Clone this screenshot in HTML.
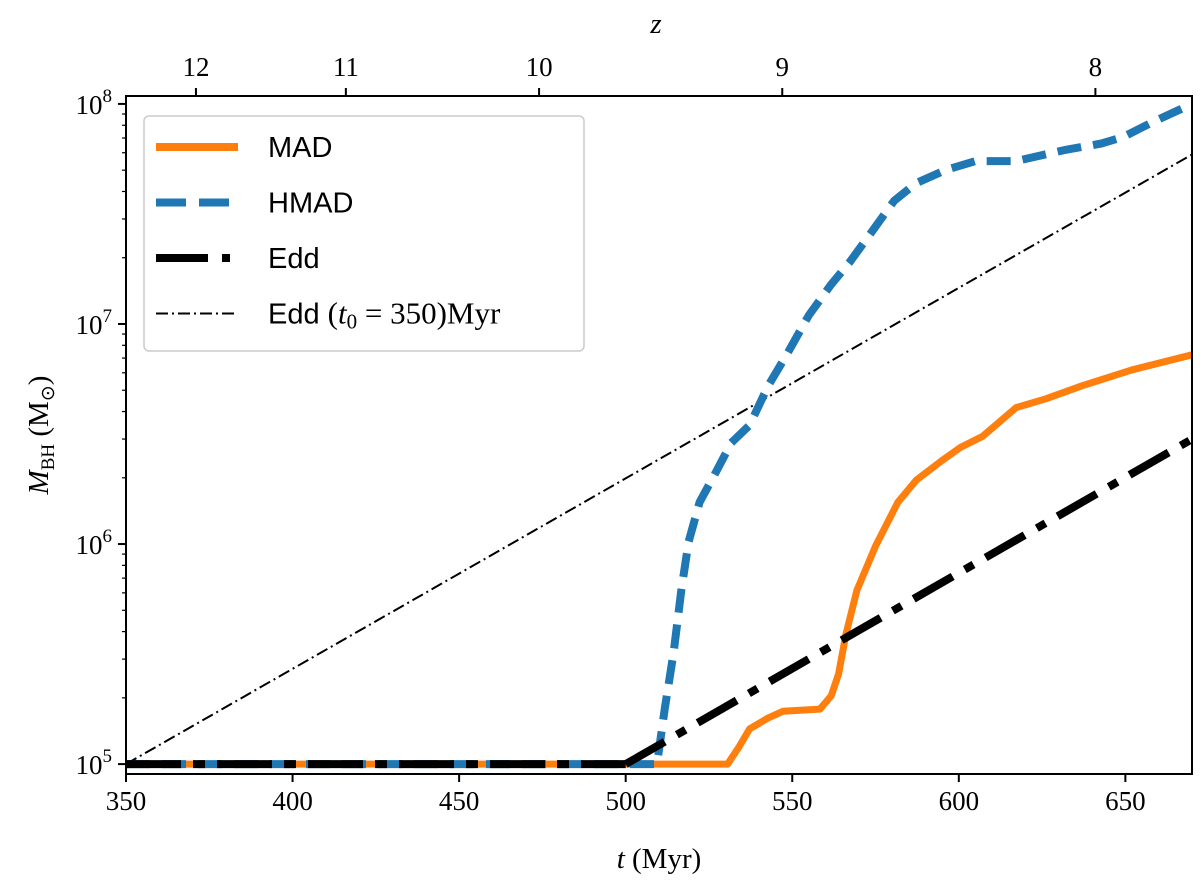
<!DOCTYPE html>
<html><head><meta charset="utf-8"><style>
body{margin:0;background:#fff}
svg{display:block}
text{font-family:"Liberation Serif",serif;fill:#000}
.lg{font-family:"Liberation Sans","DejaVu Sans",sans-serif;font-size:29px}
</style></head><body>
<svg id="c" width="1200" height="895"></svg>
<script>
const madT=[350,530.6,533.9,537.2,542.8,547.2,558.3,561.7,563.9,566.1,569.4,575,581.7,587.2,595,600.6,607.2,617.2,626.1,637.2,651.7,670];
const madLog=[5,5,5.075,5.16,5.21,5.24,5.25,5.31,5.41,5.59,5.79,5.99,6.19,6.29,6.38,6.44,6.49,6.62,6.66,6.72,6.79,6.86];
const hmadT=[350,505,509.4,511.7,514.4,516.7,518.9,522.2,527.2,531.7,537.2,542.8,548.3,555,561.7,567.2,573.9,580.6,587.2,596.1,605,617.2,631.7,642.8,649.4,657.2,670];
const hmadLog=[5,5,5.0,5.25,5.51,5.79,6.01,6.19,6.33,6.46,6.54,6.72,6.86,7.04,7.18,7.28,7.42,7.56,7.64,7.70,7.74,7.74,7.79,7.82,7.85,7.91,8.0];
const eddT=[500,670];
const eddLog=[5,6.477];
const edd0T=[350,670];
const edd0Log=[5,7.77];
const xTicks=[350,400,450,500,550,600,650];
const yTicks=[5,6,7,8];
const zLabels=["12","11","10","9","8"];
const zT=[371,416,474,547,641];

const L=126,R=1192,T=96,B=774,xmin=350,xmax=670,ymin=4.955,ymax=8.036;
const X=t=>L+(t-xmin)/(xmax-xmin)*(R-L);
const Y=l=>B-(l-ymin)/(ymax-ymin)*(B-T);
const svg=document.getElementById('c');
const NS='http://www.w3.org/2000/svg';
function mk(tag,at,parent){const e=document.createElementNS(NS,tag);for(const k in at)e.setAttribute(k,at[k]);(parent||svg).appendChild(e);return e;}
function path(ts,ls){return ts.map((t,i)=>(i?'L':'M')+X(t).toFixed(1)+','+Y(ls[i]).toFixed(1)).join('');}

let e;
e=mk('path',{d:path(edd0T,edd0Log),stroke:'#000','stroke-width':2,fill:'none','stroke-dasharray':'12 4 2 4'});


e=mk('path',{d:path(madT,madLog),stroke:'#ff7f0e','stroke-width':7,fill:'none','stroke-linejoin':'round'});


e=mk('path',{d:path(hmadT,hmadLog),stroke:'#1f77b4','stroke-width':8,fill:'none','stroke-dasharray':'24 12','stroke-linejoin':'round'});


e=mk('path',{d:'M'+X(350)+','+Y(5)+'H'+X(500),stroke:'#000','stroke-width':8,fill:'none','stroke-dasharray':'55 12 12 12'});


e=mk('path',{d:path(eddT,eddLog),stroke:'#000','stroke-width':8,fill:'none','stroke-dasharray':'45 14 10 14'});



e=mk('rect',{x:L,y:T,width:R-L,height:B-T,fill:'none',stroke:'#000','stroke-width':2});



xTicks.forEach(t=>{
  e=mk('line',{x1:X(t),x2:X(t),y1:B,y2:B+8,stroke:'#000','stroke-width':2});
  
  
  e=mk('text',{x:X(t),y:B+36,'text-anchor':'middle','font-size':27});
  e.textContent=t;
  
  
});
yTicks.forEach(l=>{
  e=mk('line',{x1:L-8,x2:L,y1:Y(l),y2:Y(l),stroke:'#000','stroke-width':2});
  
  
  e=mk('text',{x:L-14,y:Y(l)+10,'text-anchor':'end','font-size':27});
  e.innerHTML='10<tspan dy="-12" font-size="19">'+l+'</tspan>';
  
  
  for(let m=2;m<10;m++){const lm=l+Math.log10(m);if(lm>ymax)break;
    e=mk('line',{x1:L-4,x2:L,y1:Y(lm),y2:Y(lm),stroke:'#000','stroke-width':1.2});
    
    }
});
zT.forEach((t,i)=>{
  e=mk('line',{x1:X(t),x2:X(t),y1:T-8,y2:T,stroke:'#000','stroke-width':2});
  
  
  e=mk('text',{x:X(t),y:T-20,'text-anchor':'middle','font-size':27});
  e.textContent=zLabels[i];
  
  
});
e=mk('text',{x:656,y:33,'text-anchor':'middle','font-size':29,'font-style':'italic'});e.textContent='z';


e=mk('text',{x:659,y:868,'text-anchor':'middle','font-size':29});
e.innerHTML='<tspan font-style="italic">t</tspan> (Myr)';


e=mk('text',{transform:'translate(48,435) rotate(-90)','text-anchor':'middle','font-size':29});
e.innerHTML='<tspan font-style="italic">M</tspan><tspan font-size="19" dy="6">BH</tspan><tspan dy="-6"> (M</tspan><tspan font-size="19" dy="6">⊙</tspan><tspan dy="-6">)</tspan>';



// legend
const g=mk('g',{});


mk('rect',{x:144,y:116,width:440,height:235,rx:5,fill:'#fff','fill-opacity':0.85,stroke:'#ccc','stroke-width':1.5},g);
const items=[['MAD','#ff7f0e',8,'none'],['HMAD','#1f77b4',8,'30 13'],['Edd','#000',8,'52 14 8 14'],['Edd','#000',2,'12 4 2 4']];
items.forEach((it,i)=>{const y=147+i*55.5;
  e=mk('line',{x1:156,x2:238,y1:y,y2:y,stroke:it[1],'stroke-width':it[2],'stroke-dasharray':it[3]},g);
  
  
  e=mk('text',{x:268,y:y+10,class:'lg'},g);
  if(i==3)e.innerHTML='Edd <tspan font-family="Liberation Serif" font-size="31">(<tspan font-style="italic">t</tspan><tspan font-size="21" dy="5">0</tspan><tspan dy="-5"> = 350)Myr</tspan></tspan>';
  else e.textContent=it[0];
  
  
});
</script>
</body></html>
